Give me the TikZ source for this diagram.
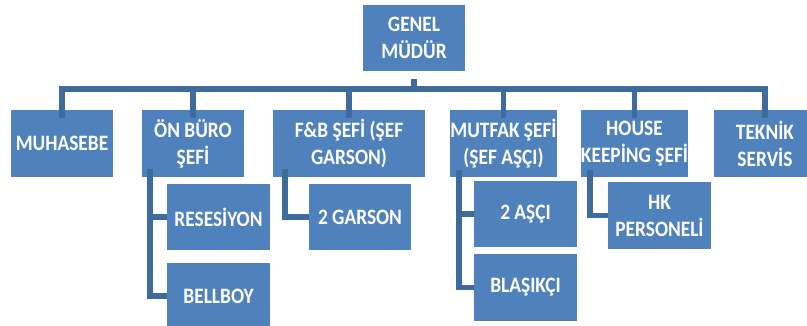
\documentclass[tikz,border=0pt]{standalone}
\usepackage{fontspec}
\setmainfont{Carlito}[FakeStretch=0.88]
\definecolor{boxblue}{HTML}{4F81BD}
\definecolor{connblue}{HTML}{3F6A9C}
\begin{document}
\begin{tikzpicture}[x=1pt,y=-1pt,
  orgbox/.style={fill=boxblue, text=white, align=center, inner sep=0pt,
    minimum width=102pt, minimum height=66pt,
    font=\fontsize{22}{27}\selectfont\bfseries},
  conn/.style={draw=connblue, line width=5.5pt, line join=miter}]
\useasboundingbox (0,0) rectangle (807,326);
\begin{scope}
\clip (0,0) rectangle (807,326);
% top
\node[orgbox] (gm) at (414,38) {GENEL\\MÜDÜR};
% level 1
\node[orgbox, minimum height=67pt] (muh) at (62,143.5) {MUHASEBE};
\node[orgbox, minimum height=67pt] (onb) at (193,143.5) {ÖN BÜRO\\ŞEFİ};
\node[orgbox, minimum height=67pt, minimum width=152pt] (fb) at (349,143.5) {F\&B ŞEFİ (ŞEF\\GARSON)};
\node[orgbox, minimum height=67pt, minimum width=103pt] (mut) at (503.5,143.5) {MUTFAK ŞEFİ\\(ŞEF AŞÇI)};
\node[orgbox, minimum height=67pt, minimum width=103pt] (hk) at (634.5,143.5) {HOUSE\\KEEPİNG ŞEFİ};
\node[orgbox, minimum height=67pt] (tek) at (765,143.5) {TEKNİK\\SERVİS};
% level 2
\node[orgbox, minimum width=103pt] (res) at (218.5,217) {RESESİYON};
\node[orgbox, minimum width=103pt] (bell) at (218.5,296) {BELLBOY};
\node[orgbox] (gar) at (360,217) {2 GARSON};
\node[orgbox, minimum width=103pt] (asci) at (525.5,214) {2 AŞÇI};
\node[orgbox, minimum width=103pt, minimum height=67pt] (bla) at (525.5,287.5) {BLAŞIKÇI};
\node[orgbox, minimum width=103pt, minimum height=67pt] (hkp) at (659.5,215.5) {HK\\PERSONELİ};
% bus
\coordinate (bus) at (414,89);
\draw[conn] ([yshift=-8pt]gm.south) -- (bus);
\foreach \c in {muh,onb,fb,mut,hk,tek}{
  \draw[conn] ([yshift=-8pt]\c.north) -- (\c.north |- bus) -- (bus);
}
% sub connectors
\coordinate (onbT) at ([xshift=8pt,yshift=8pt]onb.south west);
\draw[conn] (onbT) |- (res.west);
\draw[conn] (onbT) |- (bell.west);
\coordinate (fbT) at ([xshift=12pt,yshift=8pt]fb.south west);
\draw[conn] (fbT) |- (gar.west);
\coordinate (mutT) at ([xshift=9pt,yshift=7pt]mut.south west);
\draw[conn] (mutT) |- (asci.west);
\draw[conn] (mutT) |- (bla.west);
\coordinate (hkT) at ([xshift=9pt,yshift=7pt]hk.south west);
\draw[conn] (hkT) |- (hkp.west);
\end{scope}
\end{tikzpicture}
\end{document}
